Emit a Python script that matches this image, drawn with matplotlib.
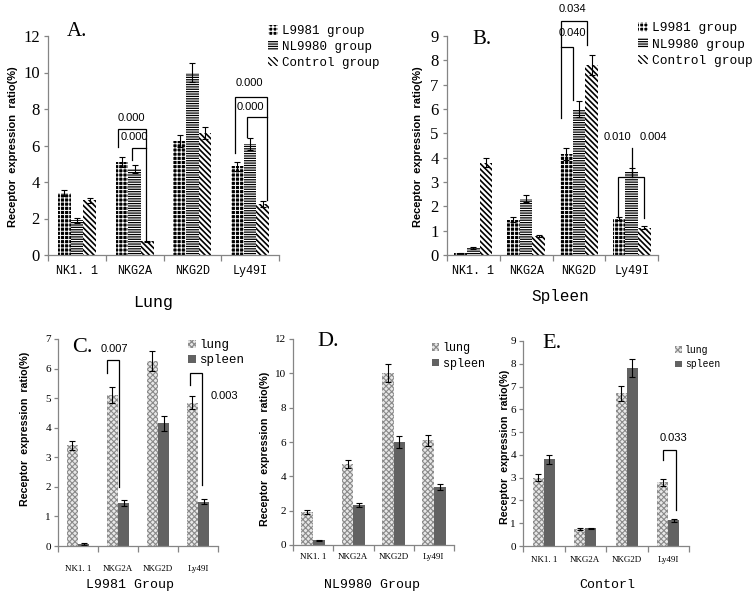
import matplotlib
matplotlib.use('Agg')
import matplotlib.pyplot as plt
import numpy as np

# ---------------- data ----------------
categories = ['NK1. 1', 'NKG2A', 'NKG2D', 'Ly49I']
group_names = ['L9981 group', 'NL9980 group', 'Control group']
organ_names = ['lung', 'spleen']

lung_l9981 = [3.40, 5.10, 6.25, 4.85]
lung_l9981_err = [0.16, 0.28, 0.33, 0.23]
lung_nl9980 = [1.90, 4.70, 10.00, 6.10]
lung_nl9980_err = [0.12, 0.23, 0.52, 0.32]
lung_control = [3.00, 0.75, 6.70, 2.80]
lung_control_err = [0.14, 0.03, 0.33, 0.16]

spleen_l9981 = [0.07, 1.45, 4.15, 1.50]
spleen_l9981_err = [0.03, 0.10, 0.25, 0.08]
spleen_nl9980 = [0.28, 2.32, 6.00, 3.40]
spleen_nl9980_err = [0.04, 0.13, 0.33, 0.18]
spleen_control = [3.80, 0.78, 7.80, 1.12]
spleen_control_err = [0.20, 0.03, 0.40, 0.07]

pvals_a = ['0.000', '0.000', '0.000', '0.000']
pvals_b = ['0.034', '0.040', '0.010', '0.004']
pval_c = ['0.007', '0.003']
pval_e = ['0.033']

# ---------------- style ----------------
plt.rcParams['hatch.linewidth'] = 0.9
W, H = 754, 596
fig = plt.figure(figsize=(W / 100, H / 100), dpi=100)
fig.patch.set_facecolor('white')

SPINE = '#858585'
group_styles = [
    dict(facecolor='black', edgecolor='white', hatch='++++', linewidth=0),
    dict(facecolor='white', edgecolor='black', hatch='-------', linewidth=0),
    dict(facecolor='white', edgecolor='black', hatch='\\\\\\\\\\\\', linewidth=0),
]
group_hatch_lw = [0.7, 0.9, 1.2]
organ_styles = [
    dict(facecolor='#e8e8e8', edgecolor='#8a8a8a', hatch='xxxxxx', linewidth=0),
    dict(facecolor='#626262', edgecolor='#626262', linewidth=0),
]
organ_hatch_lw = [0.8, 0.9]


def add_ax(l, t, r, b):
    return fig.add_axes([l / W, 1 - b / H, (r - l) / W, (b - t) / H])


def style_axis(ax, ymax, ystep, xfont, xsize, yfont, ysize, xpad, ypad):
    ax.set_xlim(0, 4)
    ax.set_ylim(0, ymax)
    for s in ['top', 'right']:
        ax.spines[s].set_visible(False)
    for s in ['left', 'bottom']:
        ax.spines[s].set_color(SPINE)
        ax.spines[s].set_linewidth(0.9)
    ax.set_xticks(np.arange(5))
    ax.set_xticklabels([])
    ax.set_xticks(np.arange(4) + 0.5, minor=True)
    ax.set_xticklabels(categories, minor=True, fontfamily=xfont, fontsize=xsize)
    ax.tick_params(axis='x', which='minor', length=0, pad=xpad)
    ax.tick_params(axis='x', which='major', length=4, direction='out', color=SPINE, width=0.9)
    ax.set_yticks(np.arange(0, ymax + 0.001, ystep))
    ax.set_yticklabels([f'{v:g}' for v in np.arange(0, ymax + 0.001, ystep)],
                       fontfamily=yfont, fontsize=ysize)
    ax.tick_params(axis='y', length=3, direction='out', color=SPINE, width=0.9, pad=ypad)
    ax.patch.set_alpha(0)


def draw_groups(ax, series, errs, width):
    handles = []
    n = len(series)
    x = np.arange(len(categories)) + 0.5
    for k, (vals, err) in enumerate(zip(series, errs)):
        pos = x + (k - (n - 1) / 2) * width
        st = group_styles[k] if n == 3 else organ_styles[k]
        hlw = group_hatch_lw[k] if n == 3 else organ_hatch_lw[k]
        with plt.rc_context({'hatch.linewidth': hlw}):
            b = ax.bar(pos, vals, width, **st,
                       label=(group_names[k] if n == 3 else organ_names[k]))
        for p in b.patches:
            if hasattr(p, 'set_hatch_linewidth'):
                p.set_hatch_linewidth(hlw)
        ax.errorbar(pos, vals, yerr=err, fmt='none', ecolor='black', elinewidth=0.8,
                    capsize=2.5, capthick=0.8)
        handles.append(b)
    return handles


def bracket(ax, xs, ys):
    ax.plot(xs, ys, color='black', lw=0.9, clip_on=False, solid_joinstyle='miter')


def ptext(ax, s, x, y, size=8):
    ax.text(x, y, s, ha='center', va='center', fontsize=size,
            fontfamily='Liberation Sans', clip_on=False)


def legend(ax, left, top, size, family, hl, rowsp):
    ax.legend(loc='upper left', bbox_to_anchor=(left / W, 1 - top / H),
              bbox_transform=fig.transFigure, frameon=False, borderpad=0,
              borderaxespad=0, handlelength=hl, handleheight=hl, handletextpad=0.3,
              labelspacing=rowsp, prop=dict(family=family, size=size))


def ylabel(x, y, size):
    fig.text(x / W, 1 - y / H, 'Receptor  expression  ratio(%)', rotation=90,
             ha='center', va='center', fontsize=size, fontweight='bold',
             fontfamily='Liberation Sans')


def ftext(x, y, s, size, family='Liberation Mono'):
    fig.text(x / W, 1 - y / H, s, ha='center', va='center', fontsize=size, fontfamily=family)


# ---------------- Panel A (Lung) ----------------
axA = add_ax(48, 36, 279, 255)
draw_groups(axA, [lung_l9981, lung_nl9980, lung_control],
            [lung_l9981_err, lung_nl9980_err, lung_control_err], 0.22)
style_axis(axA, 12, 2, 'Liberation Mono', 8.5, 'Liberation Serif', 12, 7, 3)
legend(axA, 268, 25, 9, 'Liberation Mono', 0.8, 0.3)
bracket(axA, [1.22, 1.22, 1.69, 1.69], [5.9, 6.9, 6.9, 0.8])
bracket(axA, [1.46, 1.46, 1.69], [5.2, 5.86, 5.86])
ptext(axA, pvals_a[0], 1.44, 7.5)
ptext(axA, pvals_a[1], 1.49, 6.47)
bracket(axA, [3.24, 3.24, 3.79, 3.79], [5.59, 8.66, 8.66, 3.0])
bracket(axA, [3.45, 3.45, 3.79], [6.47, 7.56, 7.56])
ptext(axA, pvals_a[2], 3.48, 9.4)
ptext(axA, pvals_a[3], 3.5, 8.1)
fig.text(67 / W, 1 - 32 / H, 'A.', fontsize=15, fontfamily='Liberation Serif', va='center')
ylabel(13, 147, 8)
ftext(153, 303, 'Lung', 12)

# ---------------- Panel B (Spleen) ----------------
axB = add_ax(447, 36, 658, 255)
draw_groups(axB, [spleen_l9981, spleen_nl9980, spleen_control],
            [spleen_l9981_err, spleen_nl9980_err, spleen_control_err], 0.24)
style_axis(axB, 9, 1, 'Liberation Mono', 8.5, 'Liberation Serif', 12, 7, 3)
legend(axB, 638, 22, 9.3, 'Liberation Mono', 0.8, 0.3)
bracket(axB, [2.16, 2.16, 2.65, 2.65], [5.63, 9.62, 9.62, 8.63])
bracket(axB, [2.16, 2.39, 2.39], [8.55, 8.55, 6.37])
ptext(axB, pvals_b[0], 2.38, 10.12)
ptext(axB, pvals_b[1], 2.38, 9.12)
bracket(axB, [3.24, 3.24, 3.73, 3.73], [1.56, 3.2, 3.2, 1.52])
bracket(axB, [3.51, 3.51], [3.2, 4.4])
ptext(axB, pvals_b[2], 3.23, 4.85)
ptext(axB, pvals_b[3], 3.91, 4.85)
fig.text(472 / W, 1 - 39 / H, 'B.', fontsize=15, fontfamily='Liberation Serif', va='center')
ylabel(418, 147, 8)
ftext(560, 297, 'Spleen', 11.5)

# ---------------- Panel C (L9981 group) ----------------
axC = add_ax(58, 339, 218, 546)
draw_groups(axC, [lung_l9981, spleen_l9981], [lung_l9981_err, spleen_l9981_err], 0.28)
style_axis(axC, 7, 1, 'Liberation Serif', 6.5, 'Liberation Serif', 8, 14, 2)
legend(axC, 188, 339, 9, 'Liberation Mono', 0.6, 0.25)
bracket(axC, [1.22, 1.22, 1.53, 1.53], [5.85, 6.29, 6.29, 2.0])
ptext(axC, pval_c[0], 1.4, 6.65)
bracket(axC, [3.3, 3.3, 3.6, 3.6], [5.44, 5.85, 5.85, 2.06])
ptext(axC, pval_c[1], 4.15, 5.06)
fig.text(72 / W, 1 - 348 / H, 'C.', fontsize=16, fontfamily='Liberation Serif', va='center')
ylabel(25, 429, 7.7)
ftext(130, 585, 'L9981 Group', 9.5)

# ---------------- Panel D (NL9980 group) ----------------
axD = add_ax(293, 339, 454, 545)
draw_groups(axD, [lung_nl9980, spleen_nl9980], [lung_nl9980_err, spleen_nl9980_err], 0.29)
style_axis(axD, 12, 2, 'Liberation Serif', 6.5, 'Liberation Serif', 8, 6, 2)
legend(axD, 432, 342, 8.5, 'Liberation Mono', 0.6, 0.3)
fig.text(317 / W, 1 - 341 / H, 'D.', fontsize=16, fontfamily='Liberation Serif', va='center')
ylabel(265, 449, 7.7)
ftext(372, 585, 'NL9980 Group', 9.5)

# ---------------- Panel E (Control) ----------------
axE = add_ax(523, 341, 689, 546)
draw_groups(axE, [lung_control, spleen_control], [lung_control_err, spleen_control_err], 0.27)
style_axis(axE, 9, 1, 'Liberation Serif', 6.5, 'Liberation Serif', 8, 7, 2)
legend(axE, 675, 345, 7, 'Liberation Mono', 0.7, 0.45)
bracket(axE, [3.37, 3.37, 3.69, 3.69], [3.78, 4.21, 4.21, 1.58])
ptext(axE, pval_e[0], 3.63, 4.74)
fig.text(542 / W, 1 - 344 / H, 'E.', fontsize=16, fontfamily='Liberation Serif', va='center')
ylabel(505, 447, 7.7)
ftext(607, 585, 'Contorl', 9.5)

fig.savefig('out.png', dpi=100, facecolor='white')
